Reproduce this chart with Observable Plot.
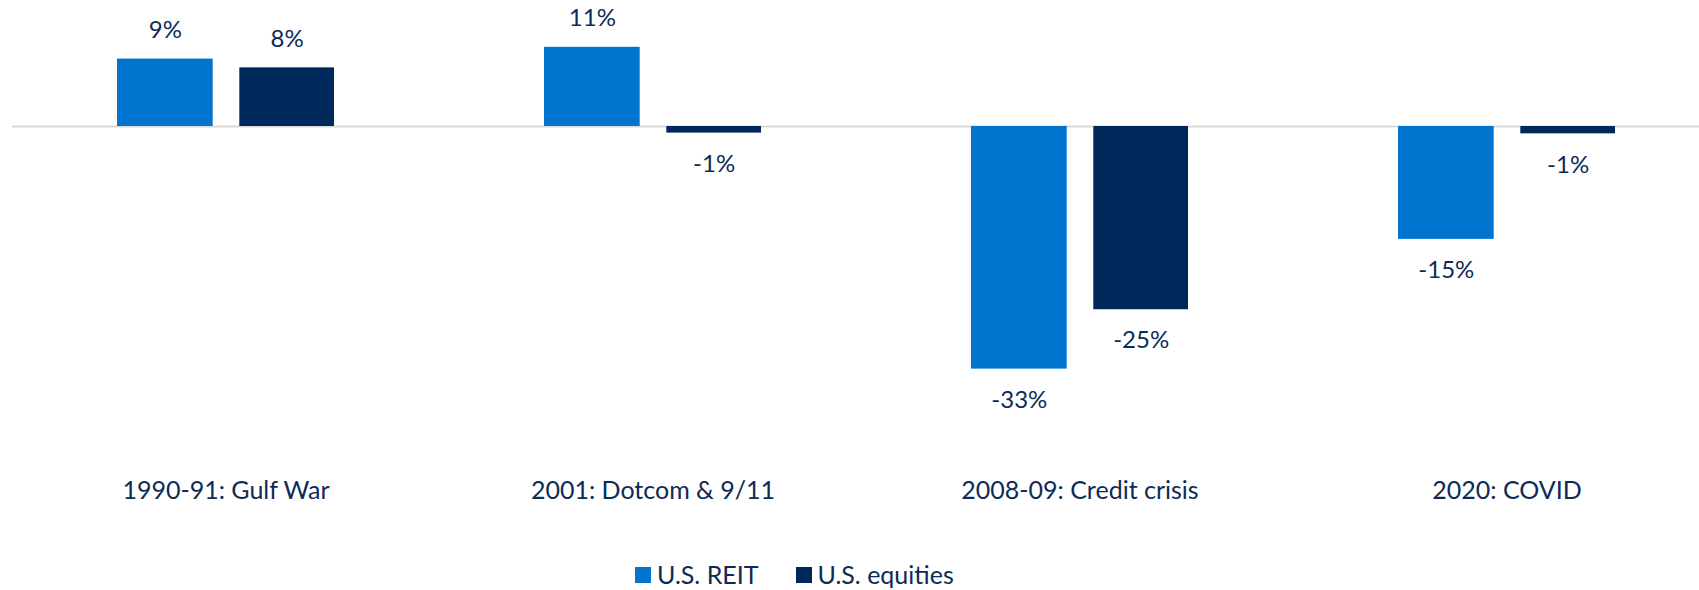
<!DOCTYPE html>
<html>
<head>
<meta charset="utf-8">
<script src="https://cdn.jsdelivr.net/npm/d3@7"></script>
<script src="https://cdn.jsdelivr.net/npm/@observablehq/plot@0.6"></script>
<style>
  html, body { margin: 0; padding: 0; background: #fff; }
  body { width: 1699px; height: 590px; overflow: hidden; font-family: Lato, "Open Sans", sans-serif; }
  #legend { display: flex; align-items: center; height: 16px; margin-top: 27px; padding-left: 635px; color: #0d2b57; font-size: 25px; }
  #legend .item { display: flex; align-items: center; margin-right: 37px; }
  #legend .sw { width: 16px; height: 16px; margin-right: 6px; }
  #legend span.t { line-height: 16px; position: relative; top: -1px; }
</style>
</head>
<body>
<div id="chart"></div>
<div id="legend"></div>
<script>
const categories = ["1990-91: Gulf War", "2001: Dotcom & 9/11", "2008-09: Credit crisis", "2020: COVID"];
const series = ["U.S. REIT", "U.S. equities"];
const reit = [9.2, 10.8, -33.1, -15.4];
const equities = [8.0, -0.9, -25.0, -1.0];
const colors = ["#0075CF", "#00285A"];
const textColor = "#0d2b57";

const data = categories.flatMap((c, i) => [
  {category: c, series: series[0], value: reit[i]},
  {category: c, series: series[1], value: equities[i]}
]);
const fmt = v => Math.round(v) + "%";

// Position of each series inside its category band (band width 427)
const insets = {
  [series[0]]: {insetLeft: 105, insetRight: 226.3, dx: -60.65},
  [series[1]]: {insetLeft: 227.3, insetRight: 105, dx: 61.15}
};

const marks = [Plot.ruleY([0], {stroke: "#d9d9d9", strokeWidth: 2, insetLeft: 12})];
for (const s of series) {
  const rows = data.filter(d => d.series === s);
  marks.push(Plot.barY(rows, {x: "category", y: "value", fill: "series",
    insetLeft: insets[s].insetLeft, insetRight: insets[s].insetRight}));
  marks.push(Plot.text(rows.filter(d => d.value >= 0), {x: "category", y: "value", text: d => fmt(d.value),
    dx: insets[s].dx, dy: -29, fill: textColor, fontSize: 24, textAnchor: "middle", lineAnchor: "middle"}));
  marks.push(Plot.text(rows.filter(d => d.value < 0), {x: "category", y: "value", text: d => fmt(d.value),
    dx: insets[s].dx, dy: 31, fill: textColor, fontSize: 24, textAnchor: "middle", lineAnchor: "middle"}));
}
marks.push(Plot.axisX({tickSize: 0, tickPadding: 11, fontSize: 25, fill: textColor, label: null}));

const chart = Plot.plot({
  width: 1699,
  height: 540,
  marginTop: 0,
  marginLeft: 0,
  marginRight: 0,
  marginBottom: 70,
  style: {fontFamily: "Lato, 'Open Sans', sans-serif", background: "#fff", overflow: "visible"},
  x: {domain: categories, range: [12, 1720], padding: 0},
  y: {domain: [-40, 15], range: [419.2, 16.05], axis: null},
  color: {domain: series, range: colors},
  marks
});
document.getElementById("chart").appendChild(chart);

const legend = document.getElementById("legend");
series.forEach((s, i) => {
  const item = document.createElement("div");
  item.className = "item";
  const sw = document.createElement("div");
  sw.className = "sw";
  sw.style.background = colors[i];
  const t = document.createElement("span");
  t.className = "t";
  t.textContent = s;
  item.appendChild(sw);
  item.appendChild(t);
  legend.appendChild(item);
});
</script>
</body>
</html>
